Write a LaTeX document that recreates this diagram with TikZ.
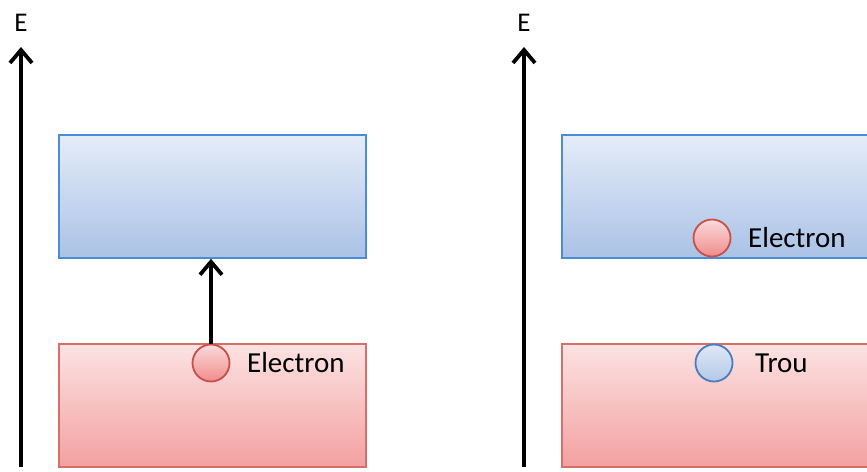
\documentclass[tikz,border=0pt]{standalone}
\usepackage{fontspec}
\setmainfont{Carlito}
\usetikzlibrary{arrows.meta}
\definecolor{bluetop}{RGB}{228,236,248}
\definecolor{bluebot}{RGB}{170,194,230}
\definecolor{blueline}{RGB}{74,141,214}
\definecolor{redtop}{RGB}{252,226,226}
\definecolor{redbot}{RGB}{243,160,160}
\definecolor{redline}{RGB}{215,110,105}
\definecolor{electop}{RGB}{251,218,218}
\definecolor{elecbot}{RGB}{240,140,140}
\definecolor{elecline}{RGB}{200,80,75}
\definecolor{holetop}{RGB}{222,232,246}
\definecolor{holebot}{RGB}{180,200,232}
\definecolor{holeline}{RGB}{74,126,187}
\begin{document}
\begin{tikzpicture}[x=1pt,y=-1pt,
  cband/.style={draw=blueline, line width=1.8pt, top color=bluetop, bottom color=bluebot,
    minimum width=307pt, minimum height=123pt, anchor=north west, inner sep=0pt},
  vband/.style={draw=redline, line width=1.8pt, top color=redtop, bottom color=redbot,
    minimum width=307pt, minimum height=123pt, anchor=north west, inner sep=0pt},
  particle/.style={circle, minimum size=37pt, inner sep=0pt, line width=1.8pt},
  elec/.style={particle, draw=elecline, top color=electop, bottom color=elecbot},
  hole/.style={particle, draw=holeline, top color=holetop, bottom color=holebot},
  bigarrow/.style={line width=4pt, -{Straight Barb[length=13pt,width=22pt,line width=3.8pt]}},
  lbl/.style={font=\fontsize{29}{34}\selectfont, anchor=base west, inner sep=0pt},
  elbl/.style={font=\fontsize{27}{32}\selectfont, anchor=base, inner sep=0pt}
]
\useasboundingbox (0,0) rectangle (867,471);
\clip (0,0) rectangle (867,471);
% left panel
\coordinate (a1b) at (21,467);
\coordinate (a1t) at (21,47);
\draw[bigarrow] (a1b) -- (a1t);
\node[elbl] (e1) at (21,31) {E};
\node[cband] (cb1) at (58,134) {};
\node[vband] (vb1) at (58,343) {};
\node[elec] (el1) at (211,363) {};
\node[lbl] (tl1) at (247,372) {Electron};
\draw[bigarrow] (el1.north) -- (el1.north |- cb1.south);
% right panel
\coordinate (a2b) at (524,467);
\coordinate (a2t) at (524,47);
\draw[bigarrow] (a2b) -- (a2t);
\node[elbl] (e2) at (524,31) {E};
\node[cband] (cb2) at (561,134) {};
\node[vband] (vb2) at (561,343) {};
\node[elec] (el2) at (712,238) {};
\node[lbl] (tl2) at (748,247) {Electron};
\node[hole] (ho2) at (714,363) {};
\node[lbl] (tl3) at (755,372) {Trou};
\end{tikzpicture}
\end{document}
